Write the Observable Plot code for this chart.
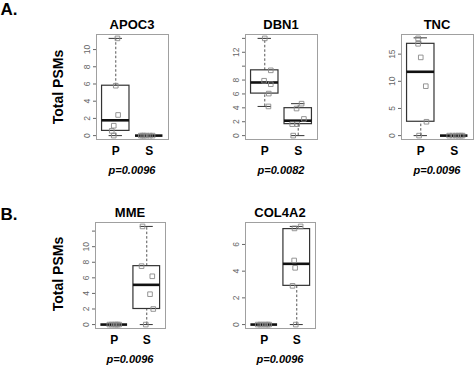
<!DOCTYPE html>
<html><head><meta charset="utf-8">
<script src="https://cdn.jsdelivr.net/npm/d3@7"></script>
<script src="https://cdn.jsdelivr.net/npm/@observablehq/plot@0.6"></script>
<style>
body{margin:0;background:#fff;}
#root{position:relative;width:474px;height:371px;overflow:hidden;font-family:"Liberation Sans",Arial,sans-serif;}
.lab{position:absolute;white-space:nowrap;color:#000;line-height:1;}
#root svg{position:absolute;overflow:visible;}
</style></head><body><div id="root"></div>
<script>
// ---------- data ----------
const genes = ["APOC3", "DBN1", "TNC", "MME", "COL4A2"];
const groups = ["P", "S"];
const pValues = ["p=0.0096", "p=0.0082", "p=0.0096", "p=0.0096", "p=0.0096"];
const panelLetters = ["A.", "B."];
const yTitle = "Total PSMs";

// box stats per group: [lower whisker, Q1, median, Q3, upper whisker]
const apoc3Box  = [[0, 0.55, 1.78, 5.8, 11.3], [0, 0, 0, 0, 0]];
const dbn1Box   = [[4.2, 6.05, 7.65, 9.4, 14.0], [0, 1.65, 2.15, 3.95, 4.6]];
const tncBox    = [[0, 2.55, 11.75, 16.9, 18.0], [0, 0, 0, 0, 0]];
const mmeBox    = [[0, 0, 0, 0, 0], [0, 2.0, 5.1, 7.5, 12.6]];
const col4a2Box = [[0, 0, 0, 0, 0], [0, 2.9, 4.55, 7.15, 7.35]];

// individual values per group
const apoc3Points  = [[11.3, 5.8, 2.4, 1.15, 0.55, 0], [0, 0, 0, 0, 0, 0]];
const dbn1Points   = [[14.0, 9.4, 7.9, 7.4, 6.05, 4.2], [4.6, 3.9, 2.4, 1.65, 1.65, 0]];
const tncPoints    = [[17.9, 16.9, 14.4, 9.1, 2.55, 0], [0, 0, 0, 0, 0, 0]];
const mmePoints    = [[0, 0, 0, 0, 0, 0], [12.6, 7.5, 6.2, 3.9, 2.0, 0]];
const col4a2Points = [[0, 0, 0, 0, 0, 0], [7.35, 7.2, 4.8, 4.25, 2.9, 0]];

// horizontal jitter of each point (in group units)
const apoc3Jitter  = [[0.05, 0.0, 0.07, -0.06, -0.12, -0.06], [-0.25, -0.15, -0.08, 0.02, 0.1, -0.2]];
const dbn1Jitter   = [[0.0, 0.18, -0.02, 0.18, 0.12, 0.11], [0.1, -0.05, 0.17, -0.18, -0.03, -0.15]];
const tncJitter    = [[-0.08, -0.08, 0.0, 0.15, 0.17, -0.05], [-0.15, -0.05, 0.05, 0.12, 0.2, 0.25]];
const mmeJitter    = [[-0.15, -0.08, 0.0, 0.05, 0.1, 0.15], [-0.13, -0.16, 0.17, 0.1, 0.2, -0.03]];
const col4a2Jitter = [[-0.2, -0.12, -0.05, 0.03, 0.1, 0.15], [0.12, -0.07, -0.08, -0.05, -0.13, -0.03]];

// y ticks and the tick labels that are printed
const apoc3Ticks  = [0, 2, 4, 6, 8, 10];       const apoc3Labels  = [0, 2, 4, 6, 8, 10];
const dbn1Ticks   = [0, 2, 4, 6, 8, 10, 12, 14]; const dbn1Labels = [0, 2, 4, 6, 8, 12];
const tncTicks    = [0, 5, 10, 15];            const tncLabels    = [0, 5, 10, 15];
const mmeTicks    = [0, 2, 4, 6, 8, 10, 12];   const mmeLabels    = [0, 2, 4, 6, 8, 10];
const col4a2Ticks = [0, 2, 4, 6];              const col4a2Labels = [0, 2, 4, 6];

// ---------- layout ----------
const frameLeft   = [96, 245, 401, 95, 245];
const frameTop    = [34, 34, 34, 222, 222];
const frameWidth  = [72, 72, 72, 70, 70];
const frameHeight = [105, 105, 105, 106, 106];

const root = document.getElementById("root");
function addLabel(text, x, y, style, rotate) {
  const d = document.createElement("div");
  d.className = "lab";
  d.textContent = text;
  Object.assign(d.style, style);
  d.style.left = x + "px";
  d.style.top = y + "px";
  d.style.transform = "translate(-50%,-50%)" + (rotate ? ` rotate(${rotate}deg)` : "");
  root.appendChild(d);
}

function panel(i, boxes, points, jitter, ticks, labels) {
  const ml = 30, mr = 1, mt = 1, mb = 26;
  const fw = frameWidth[i], fh = frameHeight[i];
  const all = points.flat();
  const lo = d3.min(all), hi = d3.max(all), pad = (hi - lo) * 0.04;
  const boxData = boxes.map((b, g) => ({pos: g + 1, lo: b[0], q1: b[1], med: b[2], q3: b[3], hi: b[4]}));
  const pts = points.flatMap((vals, g) => vals.map((v, j) => ({x: g + 1 + jitter[g][j], y: v})));
  const hw = 0.41, cw = 0.2;
  const chart = Plot.plot({
    width: ml + fw + mr, height: mt + fh + mb,
    marginLeft: ml, marginRight: mr, marginTop: mt, marginBottom: mb,
    style: {fontFamily: "Liberation Sans, Arial, sans-serif", background: "transparent", overflow: "visible"},
    x: {type: "linear", domain: [0.424, 2.576]},
    y: {type: "linear", domain: [lo - pad, hi + pad]},
    marks: [
      Plot.ruleX(boxData, {x: "pos", y1: "q3", y2: "hi", stroke: "#555", strokeDasharray: "2.5,2"}),
      Plot.ruleX(boxData, {x: "pos", y1: "lo", y2: "q1", stroke: "#555", strokeDasharray: "2.5,2"}),
      Plot.ruleY(boxData, {y: "hi", x1: d => d.pos - cw, x2: d => d.pos + cw, stroke: "#333"}),
      Plot.ruleY(boxData, {y: "lo", x1: d => d.pos - cw, x2: d => d.pos + cw, stroke: "#333"}),
      Plot.rect(boxData, {x1: d => d.pos - hw, x2: d => d.pos + hw, y1: "q1", y2: "q3", fill: "white", stroke: "#333", strokeWidth: 1.2}),
      Plot.ruleY(boxData, {y: "med", x1: d => d.pos - hw, x2: d => d.pos + hw, stroke: "#111", strokeWidth: 2.6}),
      Plot.dot(pts, {x: "x", y: "y", symbol: "square", r: 2.6, stroke: "#8a8a8a", strokeWidth: 0.9, fill: "none"}),
      Plot.frame({stroke: "#a0a0a0"}),
      Plot.axisY({ticks, tickSize: 3, tickPadding: 4, tickRotate: -90,
        tickFormat: d => labels.includes(d) ? String(d) : "", fontSize: 8.5, color: "#666"}),
      Plot.axisX({ticks: [1, 2], tickSize: 0, tickPadding: 7, tickFormat: d => groups[d - 1],
        fontSize: 12, fontWeight: "bold", color: "#000"})
    ]
  });
  chart.style.left = (frameLeft[i] - ml) + "px";
  chart.style.top = (frameTop[i] - mt) + "px";
  root.appendChild(chart);

  const cx = frameLeft[i] + fw / 2;
  addLabel(genes[i], cx, frameTop[i] - 10, {fontSize: "13px", fontWeight: "bold"});
  addLabel(pValues[i], cx, frameTop[i] + fh + 31, {fontSize: "11px", fontWeight: "bold", fontStyle: "italic"});
}

panel(0, apoc3Box, apoc3Points, apoc3Jitter, apoc3Ticks, apoc3Labels);
panel(1, dbn1Box, dbn1Points, dbn1Jitter, dbn1Ticks, dbn1Labels);
panel(2, tncBox, tncPoints, tncJitter, tncTicks, tncLabels);
panel(3, mmeBox, mmePoints, mmeJitter, mmeTicks, mmeLabels);
panel(4, col4a2Box, col4a2Points, col4a2Jitter, col4a2Ticks, col4a2Labels);

addLabel(yTitle, 58, 87, {fontSize: "14px", fontWeight: "bold"}, -90);
addLabel(yTitle, 58, 274, {fontSize: "14px", fontWeight: "bold"}, -90);
addLabel(panelLetters[0], 9, 9, {fontSize: "17px", fontWeight: "bold"});
addLabel(panelLetters[1], 9, 214, {fontSize: "17px", fontWeight: "bold"});
</script></body></html>
